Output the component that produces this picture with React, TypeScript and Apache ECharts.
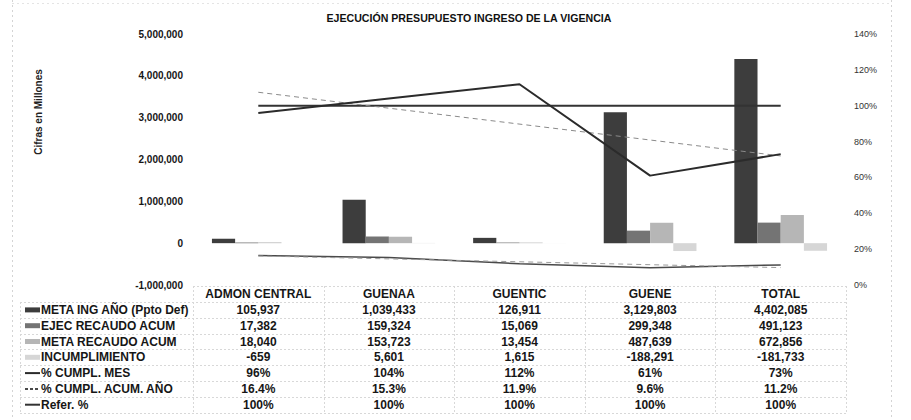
import React, { useEffect, useRef } from "react";
import * as echarts from "echarts";

const categories = ["ADMON CENTRAL", "GUENAA", "GUENTIC", "GUENE", "TOTAL"];
const metaIngAno = [105937, 1039433, 126911, 3129803, 4402085];
const ejecRecaudoAcum = [17382, 159324, 15069, 299348, 491123];
const metaRecaudoAcum = [18040, 153723, 13454, 487639, 672856];
const incumplimiento = [-659, 5601, 1615, -188291, -181733];
const cumplMes = [96, 104, 112, 61, 73];
const cumplAcumAno = [16.4, 15.3, 11.9, 9.6, 11.2];
const referPct = [100, 100, 100, 100, 100];
// trend lines (endpoints)
const trendMes = [[0, 107.5], [4, 72]];
const trendAcum = [[0, 16.2], [4, 9.7]];

const leftMin = -1000000;
const leftMax = 5000000;
const leftInterval = 1000000;
const rightMin = 0;
const rightMax = 140;
const rightInterval = 20;

const FONT = "'Liberation Sans', Arial, sans-serif";
const W = 911;
const H = 420;
const GRID_LEFT = 193;
const GRID_RIGHT = 846;
const GRID_TOP = 34;
const GRID_BOTTOM = 285;

const COLORS = {
  meta: "#3d3d3d",
  ejec: "#747474",
  metaRec: "#b6b6b6",
  incum: "#d6d6d6",
  mes: "#2b2b2b",
  acum: "#4a4a4a",
  refer: "#333333",
};

const fmtNum = (v: number) => v.toLocaleString("en-US");

export default function App() {
  const ref = useRef<HTMLDivElement>(null);

  useEffect(() => {
    if (!ref.current) return;
    const chart = echarts.init(ref.current, undefined, { renderer: "svg" });

    const catW = (GRID_RIGHT - GRID_LEFT) / categories.length;
    const colCenter = (i: number) => GRID_LEFT + (i + 0.5) * catW;

    const rows = [
      { name: "META ING AÑO (Ppto Def)", vals: metaIngAno.map(fmtNum), marker: "bar", color: COLORS.meta },
      { name: "EJEC RECAUDO ACUM", vals: ejecRecaudoAcum.map(fmtNum), marker: "bar", color: COLORS.ejec },
      { name: "META RECAUDO ACUM", vals: metaRecaudoAcum.map(fmtNum), marker: "bar", color: COLORS.metaRec },
      { name: "INCUMPLIMIENTO", vals: incumplimiento.map(fmtNum), marker: "bar", color: COLORS.incum },
      { name: "% CUMPL. MES", vals: cumplMes.map((v) => `${v}%`), marker: "line", color: COLORS.mes },
      { name: "% CUMPL. ACUM. AÑO", vals: cumplAcumAno.map((v) => `${v.toFixed(1)}%`), marker: "dash", color: COLORS.acum },
      { name: "Refer. %", vals: referPct.map((v) => `${v}%`), marker: "line", color: COLORS.refer },
    ];

    const tableLeft = 20;
    const rowTop = 302;
    const rowH = 15.8;
    const gridLineStyle = { stroke: "#d8d8d8", lineWidth: 1, lineDash: [2, 2] };

    const graphics: any[] = [];
    // outer frame (dotted)
    graphics.push({ type: "line", shape: { x1: 12.5, y1: 0, x2: 12.5, y2: H }, style: { stroke: "#d4d4d4", lineWidth: 1, lineDash: [2, 3] } });
    graphics.push({ type: "line", shape: { x1: 891.5, y1: 0, x2: 891.5, y2: H }, style: { stroke: "#d4d4d4", lineWidth: 1, lineDash: [2, 3] } });
    graphics.push({ type: "line", shape: { x1: 12, y1: 3.5, x2: 891, y2: 3.5 }, style: { stroke: "#e4e4e4", lineWidth: 1, lineDash: [2, 3] } });

    // table horizontal lines
    graphics.push({ type: "line", shape: { x1: GRID_LEFT, y1: 286.5, x2: GRID_RIGHT, y2: 286.5 }, style: gridLineStyle });
    for (let r = 0; r <= rows.length; r++) {
      const y = Math.round(rowTop + r * rowH) + 0.5;
      graphics.push({ type: "line", shape: { x1: tableLeft, y1: y, x2: GRID_RIGHT, y2: y }, style: gridLineStyle });
    }
    // table vertical lines
    const tableBottom = Math.round(rowTop + rows.length * rowH) + 0.5;
    graphics.push({ type: "line", shape: { x1: tableLeft + 0.5, y1: rowTop, x2: tableLeft + 0.5, y2: tableBottom }, style: gridLineStyle });
    for (let c = 0; c <= categories.length; c++) {
      const x = Math.round(GRID_LEFT + c * catW) + 0.5;
      graphics.push({ type: "line", shape: { x1: x, y1: 286, x2: x, y2: tableBottom }, style: gridLineStyle });
    }

    rows.forEach((row, r) => {
      const cy = rowTop + (r + 0.5) * rowH;
      if (row.marker === "bar") {
        graphics.push({ type: "rect", shape: { x: 25, y: cy - 2.5, width: 15, height: 5 }, style: { fill: row.color } });
      } else {
        graphics.push({
          type: "line",
          shape: { x1: 25, y1: cy, x2: 40, y2: cy },
          style: { stroke: row.color, lineWidth: 2, lineDash: row.marker === "dash" ? [3, 2] : null },
        });
      }
      graphics.push({
        type: "text",
        x: 41,
        y: cy,
        style: { text: row.name, fontFamily: FONT, fontSize: 12, fontWeight: "bold", fill: "#161616", textVerticalAlign: "middle", textAlign: "left" },
      });
      row.vals.forEach((v, i) => {
        graphics.push({
          type: "text",
          x: colCenter(i),
          y: cy,
          style: { text: v, fontFamily: FONT, fontSize: 12, fontWeight: "bold", fill: "#161616", textVerticalAlign: "middle", textAlign: "center" },
        });
      });
    });

    // y axis name
    graphics.push({
      type: "text",
      x: 38,
      y: 112,
      rotation: Math.PI / 2,
      style: { text: "Cifras en Millones", fontFamily: FONT, fontSize: 10, fontWeight: "bold", fill: "#222", textAlign: "center", textVerticalAlign: "middle" },
    });
    // title
    graphics.push({
      type: "text",
      x: 469,
      y: 18,
      style: { text: "EJECUCIÓN PRESUPUESTO INGRESO DE LA VIGENCIA", fontFamily: FONT, fontSize: 10.6, fontWeight: "bold", fill: "#111", textAlign: "center", textVerticalAlign: "middle" },
    });

    const option: any = {
      animation: false,
      backgroundColor: "#ffffff",
      textStyle: { fontFamily: FONT },
      grid: { left: GRID_LEFT, right: W - GRID_RIGHT, top: GRID_TOP, bottom: H - GRID_BOTTOM },
      xAxis: {
        type: "category",
        data: categories,
        axisLine: { show: false, onZero: false },
        axisTick: { show: false },
        splitLine: { show: false },
        axisLabel: { fontSize: 12, fontWeight: "bold", color: "#161616", margin: 3, fontFamily: FONT, interval: 0 },
      },
      yAxis: [
        {
          type: "value",
          min: leftMin,
          max: leftMax,
          interval: leftInterval,
          axisLine: { show: false },
          axisTick: { show: false },
          splitLine: { show: false },
          axisLabel: { fontSize: 10, fontWeight: "bold", color: "#161616", margin: 10, fontFamily: FONT, formatter: (v: number) => fmtNum(v) },
        },
        {
          type: "value",
          position: "right",
          min: rightMin,
          max: rightMax,
          interval: rightInterval,
          axisLine: { show: false },
          axisTick: { show: false },
          splitLine: { show: false },
          axisLabel: { fontSize: 9, color: "#333", margin: 8, fontFamily: FONT, formatter: "{value}%" },
        },
      ],
      series: [
        { name: "META ING AÑO (Ppto Def)", type: "bar", data: metaIngAno, barGap: "0%", barCategoryGap: "29%", itemStyle: { color: COLORS.meta } },
        { name: "EJEC RECAUDO ACUM", type: "bar", data: ejecRecaudoAcum, itemStyle: { color: COLORS.ejec } },
        { name: "META RECAUDO ACUM", type: "bar", data: metaRecaudoAcum, itemStyle: { color: COLORS.metaRec } },
        { name: "INCUMPLIMIENTO", type: "bar", data: incumplimiento, itemStyle: { color: COLORS.incum } },
        { name: "Refer. %", type: "line", yAxisIndex: 1, data: referPct, symbol: "none", lineStyle: { color: COLORS.refer, width: 2 }, z: 3 },
        { name: "tend MES", type: "line", yAxisIndex: 1, data: trendMes, symbol: "none", lineStyle: { color: "#8a8a8a", width: 1, type: [5, 4] }, z: 3 },
        { name: "tend ACUM", type: "line", yAxisIndex: 1, data: trendAcum, symbol: "none", lineStyle: { color: "#9a9a9a", width: 1, type: [5, 4] }, z: 4 },
        { name: "% CUMPL. MES", type: "line", yAxisIndex: 1, data: cumplMes, symbol: "none", lineStyle: { color: COLORS.mes, width: 2 }, z: 5 },
        { name: "% CUMPL. ACUM. AÑO", type: "line", yAxisIndex: 1, data: cumplAcumAno, symbol: "none", lineStyle: { color: COLORS.acum, width: 1.5 }, z: 3 },
      ],
      graphic: graphics,
    };

    chart.setOption(option);
    return () => chart.dispose();
  }, []);

  return <div ref={ref} style={{ position: "fixed", left: 0, top: 0, width: W, height: H }} />;
}
